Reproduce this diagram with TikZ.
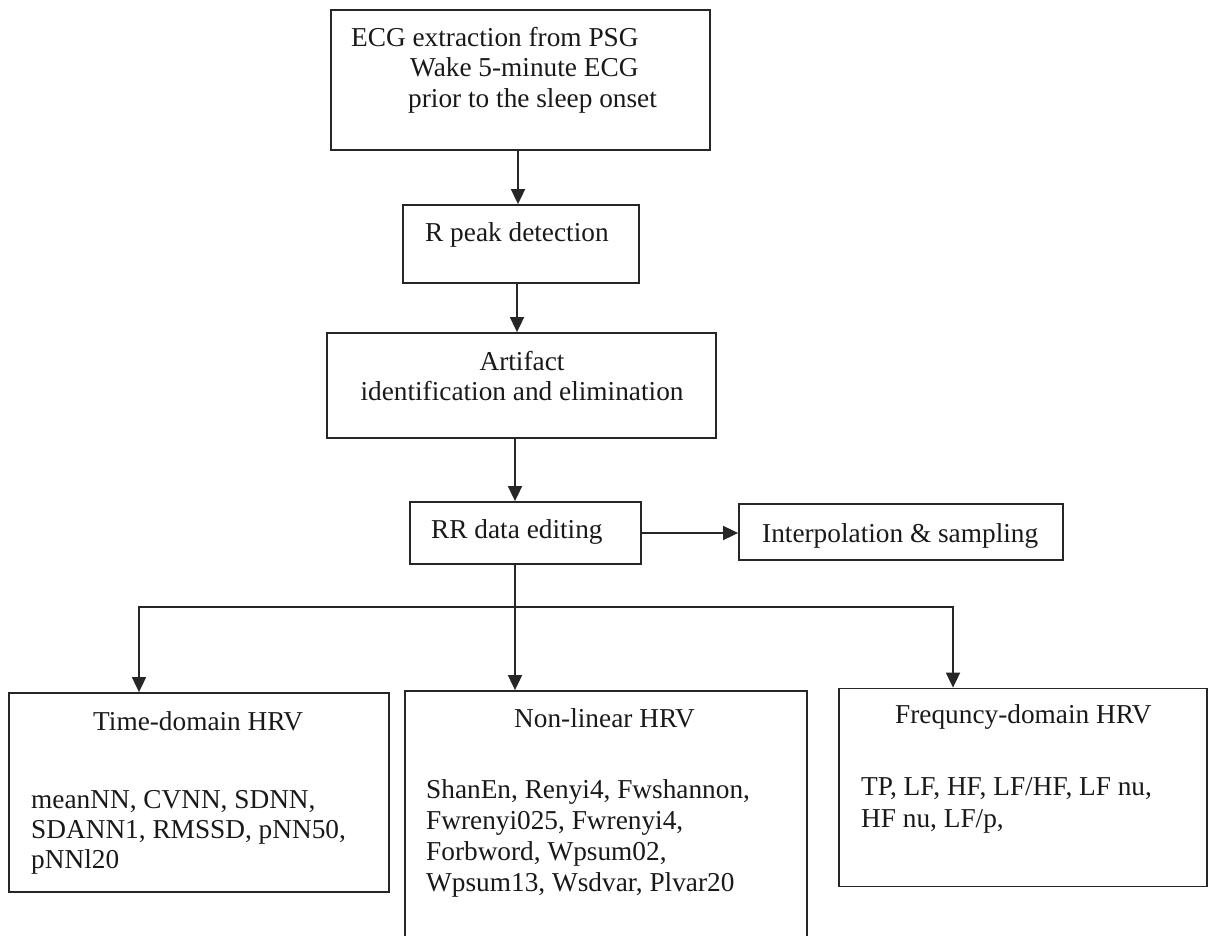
\documentclass[tikz,border=0pt]{standalone}
\usepackage{fontspec}
\setmainfont{Liberation Serif}
\usetikzlibrary{arrows.meta}
\begin{document}
\begin{tikzpicture}[x=1pt,y=-1pt,
  box/.style={draw=black!85,line width=1.8pt,rectangle,inner sep=0pt},
  lbl/.style={inner sep=0pt,font=\fontsize{27.3}{30}\selectfont,text=black!90},
  arr/.style={draw=black!85,line width=1.8pt,-{Triangle[length=15pt,width=14pt]}},
  ln/.style={draw=black!85,line width=1.8pt}]
\useasboundingbox (0,0) rectangle (1208,936);
\clip (0,0) rectangle (1208,936);
% boxes
\node[box,minimum width=379pt,minimum height=140pt] (b1) at (520.5,80) {};
\node[box,minimum width=236pt,minimum height=78pt] (b2) at (521,244) {};
\node[box,minimum width=389pt,minimum height=105pt] (b3) at (521.5,385.5) {};
\node[box,minimum width=231pt,minimum height=62pt] (b4) at (525.5,533) {};
\node[box,minimum width=324pt,minimum height=56pt] (b5) at (901,532) {};
\node[box,minimum width=380pt,minimum height=199pt] (b6) at (199,792.5) {};
\node[box,minimum width=402pt,minimum height=280pt] (b7) at (606,831) {};
\node[box,minimum width=368pt,minimum height=198pt] (b8) at (1023,787.5) {};
% texts
\node[lbl,anchor=base west] (t1a) at (351,47) {ECG extraction from PSG};
\node[lbl,anchor=base west] (t1b) at (410,77) {Wake 5-minute ECG};
\node[lbl,anchor=base west] (t1c) at (408,108) {prior to the sleep onset};
\node[lbl,anchor=base west] (t2) at (425,242) {R peak detection};
\node[lbl,anchor=base] (t3a) at (522,370) {Artifact};
\node[lbl,anchor=base] (t3b) at (522,400) {identification and elimination};
\node[lbl,anchor=base west] (t4) at (431,538) {RR data editing};
\node[lbl,anchor=base west] (t5) at (762,542) {Interpolation \& sampling};
\node[lbl,anchor=base west] (t6) at (93,730) {Time-domain HRV};
\node[lbl,anchor=base west] (t6a) at (31,808) {meanNN, CVNN, SDNN,};
\node[lbl,anchor=base west] (t6b) at (31,838) {SDANN1, RMSSD, pNN50,};
\node[lbl,anchor=base west] (t6c) at (31,868) {pNNl20};
\node[lbl,anchor=base west] (t7) at (514,727) {Non-linear HRV};
\node[lbl,anchor=base west] (t7a) at (426,798) {ShanEn, Renyi4, Fwshannon,};
\node[lbl,anchor=base west] (t7b) at (426,829) {Fwrenyi025, Fwrenyi4,};
\node[lbl,anchor=base west] (t7c) at (426,860) {Forbword, Wpsum02,};
\node[lbl,anchor=base west] (t7d) at (426,891) {Wpsum13, Wsdvar, Plvar20};
\node[lbl,anchor=base west] (t8) at (895,723) {Frequncy-domain HRV};
\node[lbl,anchor=base west] (t8a) at (861,795) {TP, LF, HF, LF/HF, LF nu,};
\node[lbl,anchor=base west] (t8b) at (861,827) {HF nu, LF/p,};
% connectors
\draw[arr] ([xshift=-2.5pt]b1.south) -- ([xshift=-2.5pt]b1.south |- b2.north);
\draw[arr] ([xshift=-4pt]b2.south) -- ([xshift=-4pt]b2.south |- b3.north);
\draw[arr] ([xshift=-10.5pt]b4.north |- b3.south) -- ([xshift=-10.5pt]b4.north);
\draw[arr] (b4.east) -- (b4.east -| b5.west);
\coordinate (j) at ([xshift=-10.5pt]b4.south |- 0,607);
\draw[ln] ([xshift=-10.5pt]b4.south) -- (j);
\draw[arr] (j) -| ([xshift=-60pt]b6.north);
\draw[arr] (j) -- (j |- b7.north);
\draw[arr] (j) -| ([xshift=-70pt]b8.north);
\end{tikzpicture}
\end{document}
